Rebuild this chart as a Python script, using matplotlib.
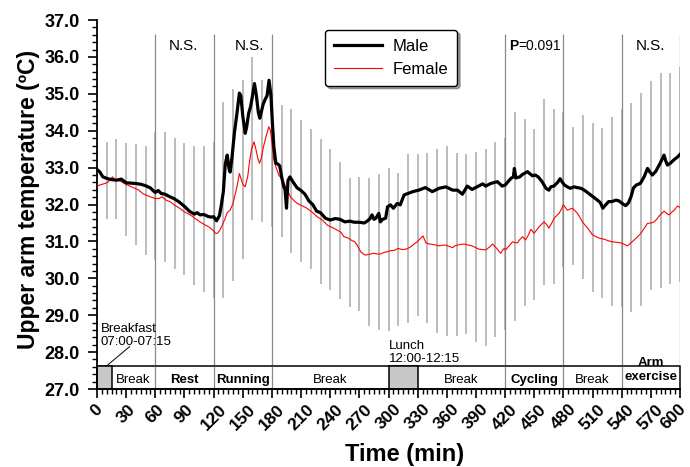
import matplotlib
matplotlib.use("Agg")
import matplotlib.pyplot as plt
from matplotlib.patches import Rectangle
from matplotlib.ticker import MultipleLocator, FormatStrFormatter
import numpy as np

plt.rcParams['font.family'] = ['Liberation Sans', 'DejaVu Sans']

# ---------------- data ----------------
male_t = [0, 3, 6, 10, 14, 20, 25, 30, 35, 40, 45, 50, 55, 58, 60, 63, 66, 70, 75, 80,
          85, 90, 95, 100, 103, 106, 110, 114, 117, 120, 123, 126, 128, 130, 132, 134,
          136, 137, 139, 141.5, 144, 146.5, 148, 150, 152.5, 154, 156, 158, 160, 162,
          164, 166, 167.5, 169, 171, 173, 175, 177, 179, 180.5, 182, 184, 186, 188, 190,
          192, 193.5, 195, 196.5, 198.5, 202, 206, 210, 214, 218, 222, 226, 230, 235,
          240, 245, 250, 255, 260, 265, 270, 275, 278, 281, 283, 285, 287, 290, 291.5,
          294, 297, 299, 302, 305, 309, 312, 316, 320, 325, 331, 338, 345, 352, 359,
          366, 371, 376, 381, 386, 391, 397, 400, 405, 412, 417, 420, 426, 428.5, 429.5,
          431, 435, 438, 443, 448, 451, 454, 458, 462, 465, 467, 470, 474, 476.5, 479,
          481, 484, 487, 491, 494, 498, 502, 506, 510, 515, 518, 520.5, 523, 526.5, 530,
          534, 537, 541, 544, 547, 549.5, 552, 555, 559, 563, 566.5, 569, 571.5, 575,
          578.5, 581, 583.5, 585, 587, 590, 594, 597, 600]
male_v = [32.95, 32.88, 32.75, 32.71, 32.68, 32.66, 32.69, 32.59, 32.58, 32.57, 32.55,
          32.51, 32.45, 32.37, 32.33, 32.38, 32.30, 32.28, 32.21, 32.15, 32.06, 31.95,
          31.82, 31.74, 31.78, 31.72, 31.73, 31.68, 31.66, 31.67, 31.56, 31.70, 32.00,
          32.35, 33.10, 33.34, 32.95, 32.88, 33.30, 33.97, 34.47, 35.02, 34.95, 34.40,
          33.93, 34.10, 34.47, 34.65, 34.95, 35.28, 34.95, 34.50, 34.34, 34.50, 34.72,
          34.85, 34.95, 35.37, 34.95, 34.20, 33.57, 33.12, 33.10, 33.05, 32.75, 32.50,
          32.40, 31.90, 32.65, 32.75, 32.60, 32.45, 32.38, 32.28, 32.10, 32.00, 31.82,
          31.78, 31.63, 31.58, 31.62, 31.60, 31.53, 31.55, 31.52, 31.52, 31.50, 31.55,
          31.62, 31.72, 31.60, 31.63, 31.76, 31.53, 31.60, 31.63, 31.94, 31.99, 31.90,
          32.03, 31.99, 32.26, 32.30, 32.35, 32.39, 32.46, 32.35, 32.44, 32.48, 32.39,
          32.39, 32.28, 32.50, 32.41, 32.48, 32.56, 32.50, 32.57, 32.62, 32.50, 32.53,
          32.71, 32.75, 32.98, 32.72, 32.75, 32.82, 32.89, 32.78, 32.80, 32.75, 32.62,
          32.44, 32.39, 32.48, 32.50, 32.60, 32.70, 32.60, 32.53, 32.48, 32.44, 32.48,
          32.46, 32.44, 32.38, 32.30, 32.22, 32.12, 32.05, 31.90, 31.98, 32.08, 32.08,
          32.12, 32.10, 32.02, 31.97, 32.05, 32.21, 32.45, 32.53, 32.57, 32.75, 32.98,
          32.88, 32.80, 32.90, 33.07, 33.20, 33.34, 33.20, 33.07, 33.12, 33.22, 33.28,
          33.36]

female_t = [0, 4, 8, 11, 14, 16, 18, 21, 25, 28, 33, 38, 43, 47, 50, 54, 57, 60, 64, 67,
            71, 75, 80, 85, 90, 96, 101, 106, 111, 116, 120, 122, 124, 126.5, 129, 132,
            134, 137, 140, 142, 144, 146.5, 148, 150, 152.5, 155, 157.2, 159, 161.6,
            163.5, 165.5, 167.2, 169, 171.3, 174, 176.8, 178.5, 180, 182, 184, 187, 190,
            194, 199, 203, 206, 211, 216, 221, 226.5, 232, 237, 242, 247, 251, 254, 258,
            262.5, 265, 267.7, 270, 272, 276, 280, 285, 288, 292, 295, 298.5, 302, 306,
            310, 314, 318, 322, 325, 329, 332, 335.5, 337, 338.5, 342, 345, 349, 352,
            356, 359, 362, 366, 368, 371, 374, 378, 382, 386, 390, 393, 397, 400, 404,
            407, 410, 412, 414, 415.6, 417, 419, 420.5, 423, 427.6, 430, 432.7, 435, 438,
            441, 444, 446.5, 449.7, 452, 455, 458, 460, 463, 465, 468, 470.4, 473, 475.5,
            478, 480, 482, 484, 487, 489, 492, 494.4, 497, 499.5, 502, 505, 509.8, 515,
            518, 522, 526, 530, 534, 539, 542, 545.8, 549, 552.7, 556, 559.6, 563, 566.5,
            570, 573.3, 576, 578.5, 581, 583.6, 586, 588.8, 591, 594, 597.4, 600]
female_v = [32.50, 32.54, 32.57, 32.60, 32.70, 32.75, 32.68, 32.66, 32.62, 32.57, 32.51,
            32.45, 32.39, 32.30, 32.26, 32.22, 32.19, 32.16, 32.17, 32.21, 32.12, 32.08,
            31.98, 31.90, 31.80, 31.72, 31.62, 31.53, 31.45, 31.38, 31.28, 31.22, 31.22,
            31.31, 31.45, 31.63, 31.78, 31.85, 32.03, 32.25, 32.48, 32.84, 32.72, 32.55,
            32.48, 32.75, 33.21, 33.50, 33.70, 33.50, 33.25, 33.12, 33.25, 33.57, 33.85,
            34.11, 34.00, 33.66, 33.21, 33.03, 32.80, 32.70, 32.50, 32.21, 32.10, 32.03,
            31.97, 31.90, 31.80, 31.67, 31.58, 31.44, 31.38, 31.31, 31.25, 31.13, 31.10,
            31.02, 31.00, 30.90, 30.78, 30.70, 30.63, 30.65, 30.68, 30.66, 30.66, 30.70,
            30.72, 30.75, 30.76, 30.81, 30.78, 30.79, 30.84, 30.90, 30.98, 31.06, 31.15,
            31.05, 30.96, 30.93, 30.92, 30.90, 30.88, 30.90, 30.90, 30.87, 30.83, 30.88,
            30.90, 30.92, 30.93, 30.90, 30.88, 30.83, 30.79, 30.78, 30.77, 30.85, 30.93,
            30.85, 30.79, 30.72, 30.68, 30.75, 30.81, 30.77, 30.85, 30.99, 30.97, 30.96,
            31.05, 31.13, 31.04, 31.18, 31.33, 31.22, 31.30, 31.40, 31.48, 31.53, 31.45,
            31.36, 31.50, 31.63, 31.70, 31.76, 31.88, 31.99, 31.92, 31.85, 31.88, 31.90,
            31.83, 31.76, 31.65, 31.53, 31.45, 31.36, 31.18, 31.11, 31.08, 31.06, 31.02,
            30.99, 30.98, 30.96, 30.93, 30.88, 30.95, 31.04, 31.12, 31.22, 31.35, 31.49,
            31.50, 31.53, 31.60, 31.69, 31.76, 31.82, 31.76, 31.72, 31.78, 31.85, 31.96,
            31.92]

bar_t = [10, 20, 30, 40, 50, 60, 70, 80, 90, 100, 110, 120, 130, 140, 150, 160, 170,
         180, 190, 200, 210, 220, 230, 240, 250, 260, 270, 280, 290, 300, 310, 320, 330,
         340, 350, 360, 370, 380, 390, 400, 410, 420, 430, 440, 450, 460, 470, 480, 490,
         500, 510, 520, 530, 540, 550, 560, 570, 580, 590, 600]
bar_hi = [33.70, 33.78, 33.66, 33.63, 33.59, 33.96, 33.97, 33.81, 33.67, 33.59, 33.58,
          33.70, 34.79, 35.12, 35.38, 35.99, 35.38, 35.10, 34.70, 34.58, 34.29, 34.05,
          33.77, 33.50, 33.15, 32.73, 32.76, 32.73, 32.83, 32.98, 32.85, 33.36, 33.36,
          33.41, 33.51, 33.59, 33.40, 33.36, 33.43, 33.50, 33.70, 33.80, 34.51, 34.32,
          34.06, 34.85, 34.60, 34.50, 34.10, 34.43, 34.21, 34.07, 34.37, 34.60, 34.74,
          35.03, 35.36, 35.56, 35.56, 35.72]
bar_lo = [31.60, 31.60, 31.15, 30.89, 30.63, 30.50, 30.45, 30.25, 30.08, 29.83, 29.62,
          29.47, 29.48, 29.94, 30.52, 31.58, 31.52, 31.40, 31.13, 30.68, 30.43, 30.24,
          29.84, 29.68, 29.44, 29.23, 29.11, 28.72, 28.60, 28.57, 28.72, 28.78, 28.98,
          28.78, 28.53, 28.44, 28.45, 28.48, 28.27, 28.17, 28.42, 28.60, 28.85, 29.26,
          29.41, 29.83, 29.85, 30.30, 30.37, 29.98, 29.64, 29.48, 29.25, 29.22, 29.10,
          29.25, 29.68, 29.75, 29.84, 29.91]

phase_bounds = [60, 120, 180, 420, 480, 540, 600]
meal_starts = [0, 300]
meal_widths = [15, 30]
seg_labels = ["Break", "Rest", "Running", "Break", "Break", "Cycling", "Break"]
seg_centers = [37.5, 90, 150, 240, 375, 450, 510]
seg_bold = [False, True, True, False, False, True, False]
sig_labels = ["N.S.", "N.S.", "N.S."]
sig_x = [89, 157, 569]
x_ticks = list(range(0, 601, 30))
y_ticks = [27.0, 28.0, 29.0, 30.0, 31.0, 32.0, 33.0, 34.0, 35.0, 36.0, 37.0]

# ---------------- figure ----------------
fig = plt.figure(figsize=(6.9, 4.67), dpi=100)
ax = fig.add_axes([0.1406, 0.167, 0.845, 0.790])
ax.set_xlim(0, 600)
ax.set_ylim(27.0, 37.0)

# error bars
ax.vlines(bar_t, bar_lo, bar_hi, colors='#b0b0b0', linewidth=1.2, zorder=1)
# phase boundary lines
ax.vlines(phase_bounds, 27.0, 36.62, colors='#8a8a8a', linewidth=0.9, zorder=1.5)

# curves
ax.plot(female_t, female_v, color='#ff0000', linewidth=0.8, label='Female', zorder=3)
ax.plot(male_t, male_v, color='black', linewidth=2.3, label='Male', zorder=4)

# bottom activity bar
bar_top = 27.62
ax.add_patch(Rectangle((0, 27.0), 600, bar_top - 27.0, facecolor='white',
                       edgecolor='black', linewidth=1.1, zorder=2, clip_on=False))
for s, w in zip(meal_starts, meal_widths):
    ax.add_patch(Rectangle((s, 27.0), w, bar_top - 27.0, facecolor='#c8c8c8',
                           edgecolor='black', linewidth=1.1, zorder=2.1))
ax.vlines(phase_bounds[:-1], 27.0, bar_top, colors='#8a8a8a', linewidth=0.9, zorder=2.2)
for lab, cx, b in zip(seg_labels, seg_centers, seg_bold):
    ax.text(cx, 27.17, lab, ha='center', va='baseline', fontsize=9.5,
            fontweight='bold' if b else 'normal', zorder=5)
ax.text(570, 27.63, "Arm", ha='center', va='baseline', fontsize=9.5,
        fontweight='bold', zorder=5)
ax.text(570, 27.24, "exercise", ha='center', va='baseline', fontsize=9.5,
        fontweight='bold', zorder=5)

# meal annotations
ax.text(3.5, 28.55, "Breakfast", ha='left', va='baseline', fontsize=9.5, zorder=5)
ax.text(3.5, 28.19, "07:00-07:15", ha='left', va='baseline', fontsize=9.5, zorder=5)
ax.plot([9.6, 33.6], [27.62, 28.15], color='black', linewidth=0.7, zorder=5)
ax.text(300.5, 28.08, "Lunch", ha='left', va='baseline', fontsize=9.5, zorder=5)
ax.text(300.5, 27.72, "12:00-12:15", ha='left', va='baseline', fontsize=9.5, zorder=5)

# significance labels
for lab, sx in zip(sig_labels, sig_x):
    ax.text(sx, 36.19, lab, ha='center', va='baseline', fontsize=11, zorder=5)
ax.text(434, 36.2, "P", ha='right', va='baseline', fontsize=10, fontweight='bold')
ax.text(434, 36.2, "=0.091", ha='left', va='baseline', fontsize=10)

# axes styling
for sp in ['top', 'right']:
    ax.spines[sp].set_visible(False)
ax.spines['left'].set_linewidth(1.3)
ax.spines['bottom'].set_linewidth(1.3)
ax.set_xticks(x_ticks)
ax.xaxis.set_minor_locator(MultipleLocator(5))
ax.tick_params(axis='x', which='both', labelbottom=False)
# rotated x tick labels placed at each tick; the last one nudged inward
for v in x_ticks:
    dx = -5 if v == x_ticks[-1] else 0
    ax.annotate(str(v), xy=(v, 0), xycoords=('data', 'axes fraction'),
                xytext=(dx, -9), textcoords='offset points', rotation=45,
                ha='center', va='top', fontweight='bold', fontsize=12.5,
                annotation_clip=False)
ax.set_yticks(y_ticks)
ax.yaxis.set_major_formatter(FormatStrFormatter('%.1f'))
ax.yaxis.set_minor_locator(MultipleLocator(0.2))
for lbl in ax.get_yticklabels():
    lbl.set_fontweight('bold')
    lbl.set_fontsize(13)
ax.tick_params(axis='both', which='major', direction='out', length=6.5, width=1.2,
               colors='black')
ax.tick_params(axis='both', which='minor', direction='out', length=3.5, width=1.0)
ax.tick_params(axis='y', which='major', pad=6)

ax.set_xlabel("Time (min)", fontsize=17, fontweight='bold')
ax.xaxis.set_label_coords(0.528, -0.146)
ax.set_ylabel("Upper arm temperature (ºC)", fontsize=16.5, fontweight='bold')
ax.yaxis.set_label_coords(-0.098, 0.515)

# legend (Male first)
handles, labels = ax.get_legend_handles_labels()
order = [1, 0]
leg = ax.legend([handles[i] for i in order], [labels[i] for i in order],
                loc='upper left', bbox_to_anchor=(0.391, 0.973), borderaxespad=0,
                fontsize=12, handlelength=2.9, handletextpad=0.6, labelspacing=0.45,
                borderpad=0.55, frameon=True, fancybox=True, shadow=True)
leg.get_frame().set_edgecolor('black')
leg.get_frame().set_linewidth(1.0)
leg.get_frame().set_alpha(1)

fig.savefig("out.png", dpi=100)
